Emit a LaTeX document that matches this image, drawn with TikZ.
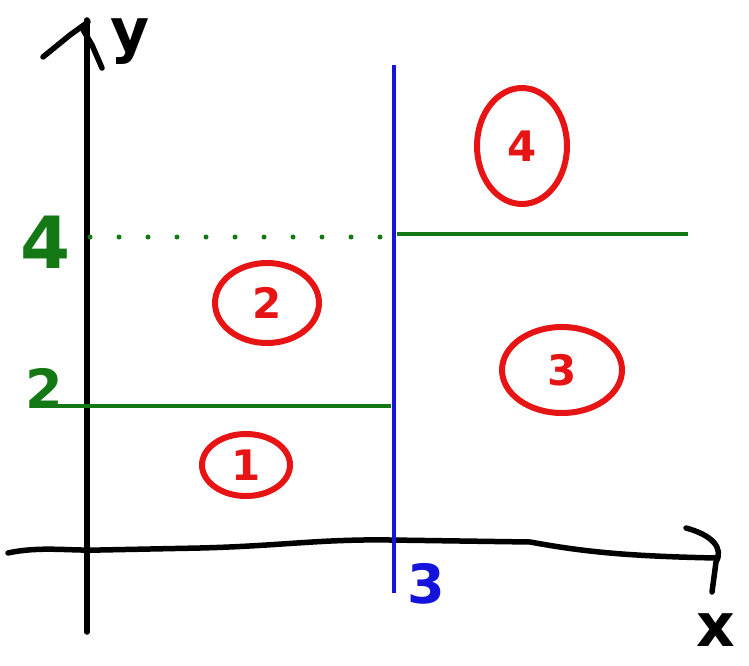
\documentclass[tikz,border=0pt]{standalone}
\usepackage{fontspec}
\setmainfont{DejaVu Sans}
\usetikzlibrary{shapes.geometric}
\definecolor{pen red}{RGB}{230,20,20}
\definecolor{pen green}{RGB}{20,120,20}
\definecolor{pen blue}{RGB}{20,20,220}
\tikzset{
  axis/.style={line width=5.5pt, black, line cap=round, line join=round},
  bound/.style={line width=3.5pt, pen green},
  region/.style={ellipse, draw=pen red, line width=6pt, text=pen red, inner sep=0pt,
    font=\fontsize{42}{42}\selectfont\bfseries},
  lab/.style={inner sep=0pt, font=\fontsize{60}{60}\selectfont\bfseries},
}
\begin{document}
\begin{tikzpicture}[x=1pt,y=-1pt]
\useasboundingbox (0,0) rectangle (749,666);
% axes
\coordinate (ybot) at (87,632);
\coordinate (ytop) at (87,20);
\draw[axis] (ybot) -- (ytop);
\draw[axis] (43,57) -- (70,35) -- (88,22);
\draw[axis] (82,28) -- (92,45) -- (102,68);
\coordinate (xl) at (8,553);
\coordinate (xr) at (716,558);
\draw[axis] (xl) .. controls (40,546) and (70,551) .. (100,550)
  -- (200,548) .. controls (280,546) and (320,539) .. (390,540)
  -- (530,542) .. controls (580,551) and (620,556) .. (xr);
\draw[axis] (686,528) .. controls (712,535) and (724,548) .. (716,562) -- (712,592);
\node[lab] (ylab) at (130,42) {y};
\node[lab] (xlab) at (716,630) {x};
% boundaries
\coordinate (btop) at (394,65);
\coordinate (bbot) at (394,593);
\draw[line width=4pt, pen blue] (btop) -- (bbot);
\node[lab, text=pen blue, font=\fontsize{54}{54}\selectfont\bfseries] (three) at (426,584) {3};
\coordinate (g2a) at (35,406);
\coordinate (g2b) at (391,406);
\draw[bound] (g2a) -- (g2b);
\coordinate (g4a) at (90,237);
\coordinate (g4b) at (385,237);
\draw[pen green, line width=5pt, line cap=round, dash pattern=on 0pt off 29pt] (g4a) -- (g4b);
\coordinate (g4c) at (397,234);
\coordinate (g4d) at (688,234);
\draw[bound] (g4c) -- (g4d);
\node[lab, text=pen green, font=\fontsize{72}{72}\selectfont\bfseries] (four) at (46,242) {4};
\node[lab, text=pen green, font=\fontsize{54}{54}\selectfont\bfseries] (two) at (44,388) {2};
% regions
\node[region, minimum width=88pt, minimum height=62pt] (r1) at (246,465) {1};
\node[region, minimum width=104pt, minimum height=80pt] (r2) at (267,303) {2};
\node[region, minimum width=120pt, minimum height=86pt] (r3) at (562,370) {3};
\node[region, minimum width=90pt, minimum height=116pt] (r4) at (522,146) {4};
\end{tikzpicture}
\end{document}
